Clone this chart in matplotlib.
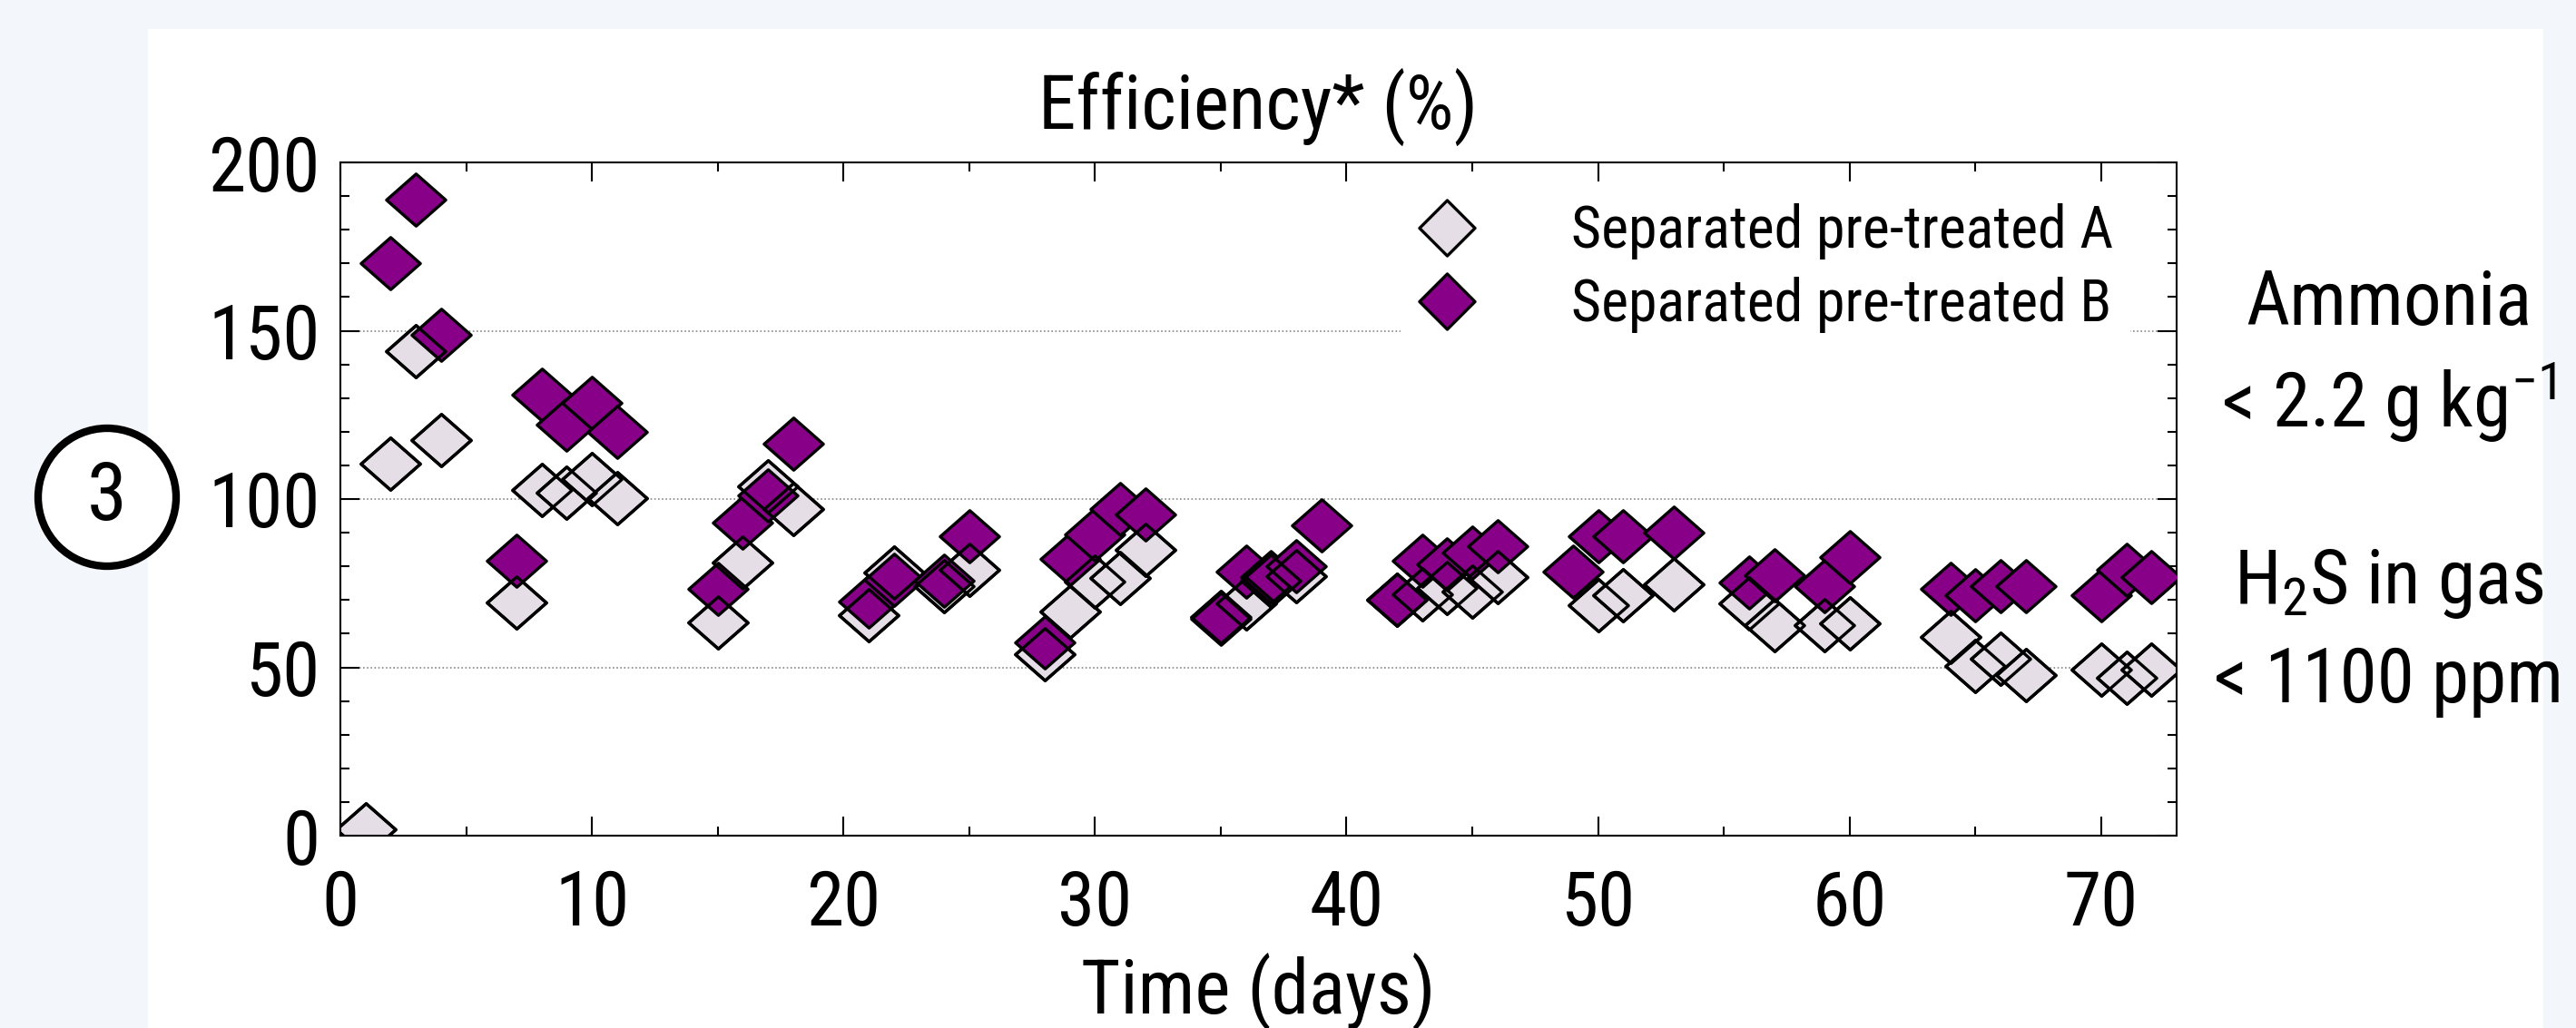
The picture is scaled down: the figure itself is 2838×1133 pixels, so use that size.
import numpy as np
import matplotlib
matplotlib.use('Agg')
import matplotlib.pyplot as plt
from matplotlib import font_manager
from matplotlib.path import Path
from matplotlib.lines import Line2D
from matplotlib.patches import Rectangle, Circle
from matplotlib.ticker import MultipleLocator

# efficiency data
days_a = [1, 2, 3, 4, 7, 8, 9, 10, 11, 15, 16, 17, 18, 21, 22, 24, 25, 28, 29, 30, 31, 32,
          35, 36, 37, 38, 42, 43, 44, 45, 46, 50, 51, 53, 56, 57, 59, 60, 64, 65, 66, 67, 70, 71, 72]
eff_a = [2, 110.6, 144, 117.6, 69.3, 102.8, 102, 106, 100.3, 63.4, 81, 103.7, 97, 65.5, 78.3, 74, 79,
         54, 66.5, 75.5, 76.5, 85, 65, 69, 75.7, 77, 70, 71.8, 73.5, 72.4, 76.8, 68.5, 71.3, 74.6,
         69, 62.4, 62.4, 63, 59, 50.3, 52.5, 47.6, 49.2, 47, 49.2]

days_b = [2, 3, 4, 7, 8, 9, 10, 11, 15, 16, 17, 18, 21, 22, 24, 25, 28, 29, 30, 31, 32, 35, 36,
          37, 38, 39, 42, 43, 44, 45, 46, 49, 50, 51, 53, 56, 57, 59, 60, 64, 65, 66, 67, 70, 71, 72]
eff_b = [170, 189, 148.8, 81.7, 131, 122, 128.5, 120, 73.4, 93, 101, 116.4, 69.5, 76, 75.7, 89,
         57.5, 82.3, 89.4, 97, 95.5, 64.5, 78.4, 76.8, 80, 92.2, 70.2, 81.7, 80.6, 84, 86.1, 78.4,
         88.9, 88.9, 90, 75.1, 77.3, 74, 82.8, 73.3, 71.3, 74, 74, 71.3, 79, 76.8]

labels = ['Separated pre-treated A', 'Separated pre-treated B']
notes = ['Ammonia', '< 2.2 g kg$^{-1}$', 'H$_2$S in gas', '< 1100 ppm']

light = '#e6dee7'
purple = '#870087'

# pick a narrow font if one is installed
names = {f.name for f in font_manager.fontManager.ttflist}
font = 'DejaVu Sans'
stretch = 'normal'
for cand in ['Liberation Sans Narrow', 'Roboto Condensed', 'Open Sans Condensed', 'Noto Sans Condensed']:
    if cand in names:
        font = cand
        break
else:
    if any(f.name == 'DejaVu Sans' and 'condensed' in str(f.stretch) for f in font_manager.fontManager.ttflist):
        stretch = 'condensed'

plt.rcParams['font.family'] = [font, 'DejaVu Sans']
plt.rcParams['font.stretch'] = stretch
plt.rcParams['mathtext.fontset'] = 'custom'
plt.rcParams['mathtext.rm'] = font
plt.rcParams['mathtext.default'] = 'regular'

def diamond(ratio):
    return Path([(0, ratio), (1, 0), (0, -ratio), (-1, 0), (0, ratio)],
                [Path.MOVETO, Path.LINETO, Path.LINETO, Path.LINETO, Path.CLOSEPOLY])

flat = diamond(0.88)
square = diamond(1.0)

fig = plt.figure(figsize=(28.38, 11.33), dpi=100)
fig.patch.set_facecolor('#f3f6fa')
fig.patches.append(Rectangle((163 / 2838, 0), (2802 - 163) / 2838, 1 - 32 / 1133,
                             transform=fig.transFigure, facecolor='white', edgecolor='none', zorder=-5))

ax = fig.add_axes([375 / 2838, 212 / 1133, (2398 - 375) / 2838, (921 - 179) / 1133])
ax.set_zorder(1)
ax.set_facecolor('white')

ms = 47
ax.plot(days_a, eff_a, linestyle='none', marker=flat, ms=ms, mfc=light, mec='black', mew=2.4, zorder=2)
ax.plot(days_b, eff_b, linestyle='none', marker=flat, ms=ms, mfc=purple, mec='black', mew=2.4, zorder=3)
ax.plot(days_a, eff_a, linestyle='none', marker=flat, ms=ms, mfc='none', mec='black', mew=2.4, zorder=4)

ax.set_xlim(0, 73)
ax.set_ylim(0, 200)
ax.xaxis.set_major_locator(MultipleLocator(10))
ax.xaxis.set_minor_locator(MultipleLocator(5))
ax.yaxis.set_major_locator(MultipleLocator(50))
ax.yaxis.set_minor_locator(MultipleLocator(10))
ax.tick_params(which='both', direction='in', top=True, right=True, width=1.5, labelsize=60)
ax.tick_params(axis='x', pad=26)
ax.tick_params(axis='y', pad=16)
ax.tick_params(which='major', length=15)
ax.tick_params(which='minor', length=7)
for sp in ax.spines.values():
    sp.set_linewidth(1.5)
ax.yaxis.grid(True, which='major', linestyle=(0, (1, 1.5)), color='#888888', linewidth=1.2, zorder=1)
ax.set_axisbelow(True)

ax.set_title('Efficiency* (%)', fontsize=60, pad=27)
ax.set_xlabel('Time (days)', fontsize=60, labelpad=9)

handles = [Line2D([], [], linestyle='none', marker=square, ms=44, mfc=light, mec='black', mew=2.4),
           Line2D([], [], linestyle='none', marker=square, ms=44, mfc=purple, mec='black', mew=2.4)]
leg = ax.legend(handles, labels, loc='upper right', bbox_to_anchor=(0.975, 0.965), fontsize=46,
                frameon=True, framealpha=1, facecolor='white', edgecolor='none',
                handlelength=1.0, handletextpad=1.65, labelspacing=0.3, borderaxespad=0, borderpad=0.3)
leg.set_zorder(5)

ys = [335, 443, 643, 751]
for txt, y in zip(notes, ys):
    fig.text(2632 / 2838, 1 - y / 1133, txt, fontsize=60, ha='center', va='center')

circ = Circle((118 / 100, (1133 - 548) / 100), 0.76, transform=fig.dpi_scale_trans,
              facecolor='white', edgecolor='black', linewidth=6, zorder=3)
fig.patches.append(circ)
fig.text(118 / 2838, 1 - 548 / 1133, '3', fontsize=64, ha='center', va='center', zorder=4)

fig.savefig('out.png', dpi=100, facecolor=fig.get_facecolor())
